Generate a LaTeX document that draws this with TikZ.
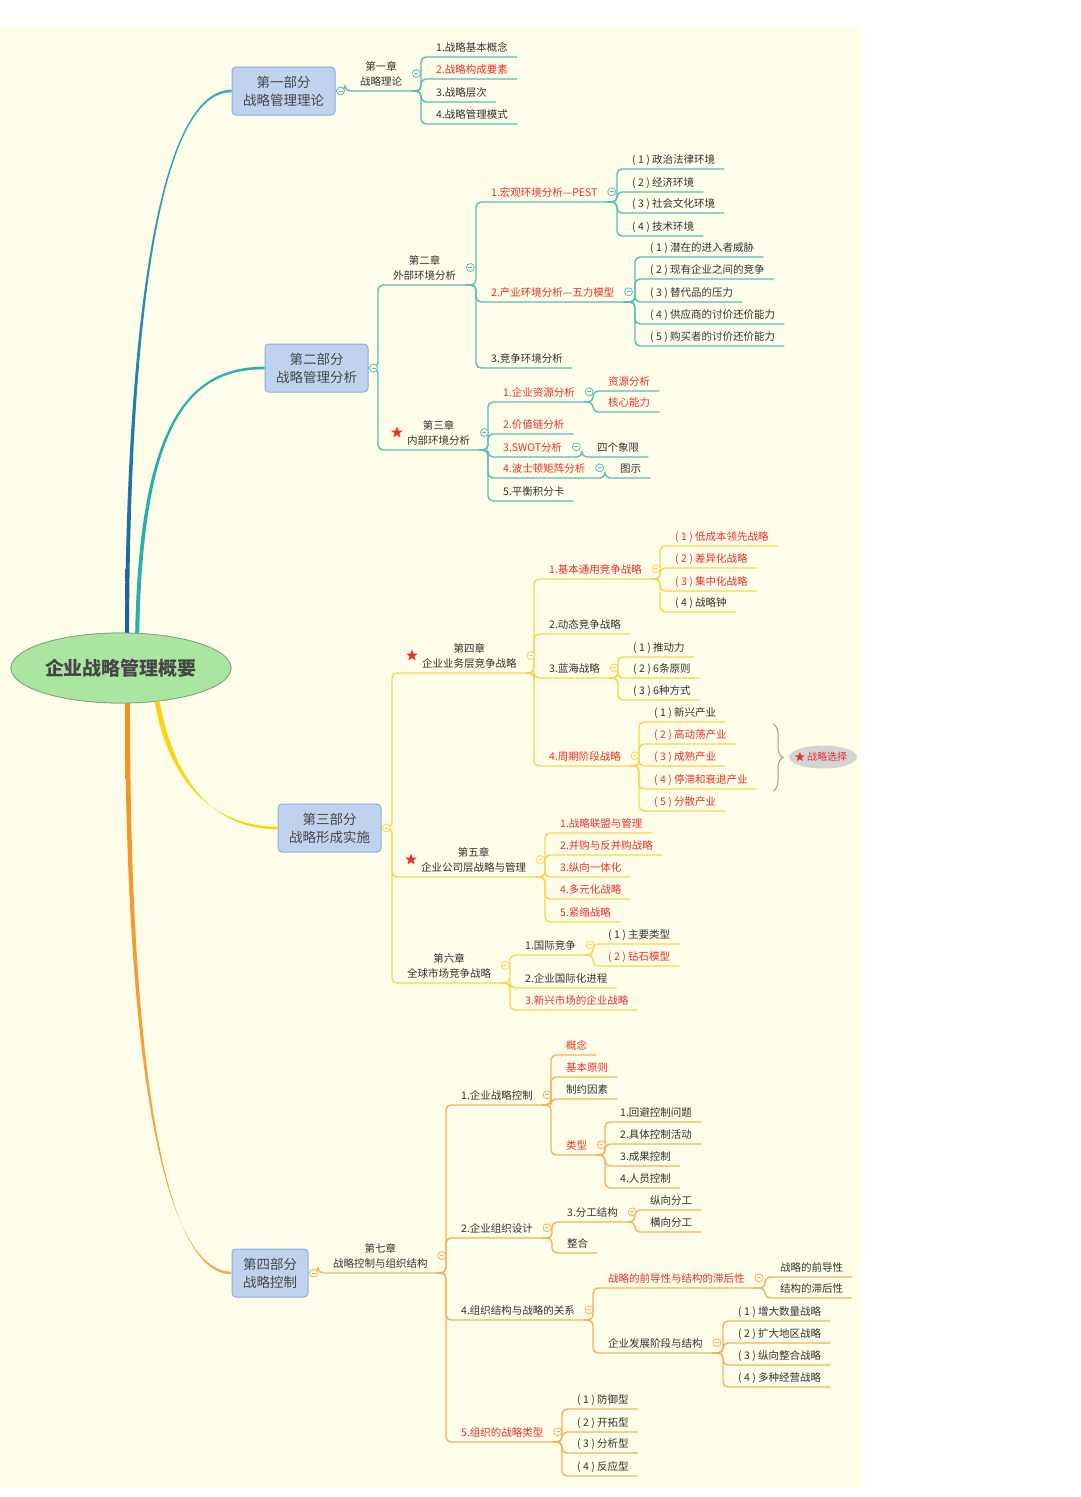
\documentclass[tikz,border=0pt]{standalone}
\usepackage{fontspec}
\setmainfont{Noto Sans CJK SC}
\usetikzlibrary{positioning}
\usetikzlibrary{calc}
\usetikzlibrary{shapes.geometric}
\usetikzlibrary{decorations.pathreplacing}
\definecolor{paper}{RGB}{254,253,233}
\definecolor{ink}{RGB}{51,51,51}
\definecolor{hotred}{RGB}{236,48,40}
\definecolor{tealline}{RGB}{88,190,184}
\definecolor{yelline}{RGB}{248,214,82}
\definecolor{orgline}{RGB}{245,176,92}
\definecolor{navy}{RGB}{26,92,156}
\definecolor{tealtop}{RGB}{60,172,186}
\definecolor{tealmid}{RGB}{42,176,168}
\definecolor{sunny}{RGB}{250,212,20}
\definecolor{orangeA}{RGB}{244,144,26}
\definecolor{orangeB}{RGB}{246,170,78}
\definecolor{partfill}{RGB}{191,211,239}
\definecolor{partline}{RGB}{140,176,220}
\definecolor{rootfill}{RGB}{170,230,162}
\definecolor{rootline}{RGB}{130,165,130}
\definecolor{sumfill}{RGB}{212,212,212}
\tikzset{leaf/.style = {anchor=south west, inner xsep=9pt, inner ysep=5.5pt,
                        text height=9pt, text depth=0pt, text=ink,
                        font=\fontsize{10.5pt}{14.5pt}\selectfont},
         hotleaf/.style = {leaf, text=hotred},
         chap/.style = {leaf, align=center, text height=23.5pt},
         partbox/.style = {rectangle, rounded corners=4pt, draw=partline, fill=partfill,
                           line width=1pt, minimum width=103pt, minimum height=48pt,
                           align=center, text=ink!90,
                           font=\fontsize{13.5pt}{18pt}\selectfont},
         rootnode/.style = {ellipse, draw=rootline, fill=rootfill, line width=0.8pt,
                            minimum width=220pt, minimum height=70pt, inner sep=0pt,
                            text=ink!90, font=\fontsize{19pt}{22pt}\selectfont\bfseries},
         foldmark/.style = {circle, draw=#1, fill=paper, line width=0.8pt,
                            minimum size=8pt, inner sep=0pt,
                            path picture={\draw[#1, line width=0.8pt]
                              ([xshift=-2pt]path picture bounding box.center) --
                              ([xshift=2pt]path picture bounding box.center);}},
         redstar/.style = {star, star points=5, star point ratio=2.4, fill=hotred,
                           inner sep=0pt, minimum size=12pt},
         sumnode/.style = {ellipse, fill=sumfill, minimum width=67pt, minimum height=23pt,
                           inner sep=0pt, text=hotred,
                           font=\fontsize{10pt}{12pt}\selectfont},
         tealedge/.style = {draw=tealline, line width=1.4pt, rounded corners=5pt},
         yeledge/.style = {draw=yelline, line width=1.4pt, rounded corners=5pt},
         orgedge/.style = {draw=orgline, line width=1.4pt, rounded corners=5pt}}

\begin{document}
\begin{tikzpicture}[x=1pt, y=-1pt]
  \useasboundingbox (0,0) rectangle (1080,1497);
  \fill[paper] (0,26) rectangle (861,1488);

  \node[partbox] (p1) at (283.5,91) {第一部分\\战略管理理论};
  \node[partbox] (p2) at (316.5,368) {第二部分\\战略管理分析};
  \node[partbox] (p3) at (329.5,828) {第三部分\\战略形成实施};
  \node[partbox, minimum width=76pt] (p4) at (270,1273) {第四部分\\战略控制};
  \node[rootnode] (root) at (121,668) {企业战略管理概要};

  \shade[top color=tealtop, bottom color=navy]
    ($(root.north)+(4,15)$) .. controls (125,380) and (150,89.7) .. ($(p1.west)+(0,-1.3)$)
    -- ($(p1.west)+(0,1.3)$) .. controls (150,92.3) and (129,380) .. ($(root.north)+(8,15)$) -- cycle;
  \fill[tealmid]
    ($(root.north)+(14,15)$) .. controls (137,420) and (190,366.7) .. ($(p2.west)+(0,-1.3)$)
    -- ($(p2.west)+(0,1.3)$) .. controls (190,369.3) and (141,420) .. ($(root.north)+(18,15)$) -- cycle;
  \fill[sunny]
    ($(root.south)+(32,-12)$) .. controls (167,790) and (220,826.7) .. ($(p3.west)+(0,-1.3)$)
    -- ($(p3.west)+(0,1.3)$) .. controls (220,829.3) and (173,790) .. ($(root.south)+(37,-12)$) -- cycle;
  \shade[top color=orangeA, bottom color=orangeB]
    ($(root.south)+(4,-12)$) .. controls (125,1100) and (170,1271.7) .. ($(p4.west)+(0,-1.3)$)
    -- ($(p4.west)+(0,1.3)$) .. controls (170,1274.3) and (129,1100) .. ($(root.south)+(9,-12)$) -- cycle;
  \node[rootnode] at (root) {企业战略管理概要};

  % part 1
  \node[chap] (c1) at (351,91) {第一章\\战略理论};
  \node[leaf] (c1a) at (427,57) {1.战略基本概念};
  \node[hotleaf] (c1b) at (427,79) {2.战略构成要素};
  \node[leaf] (c1c) at (427,102) {3.战略层次};
  \node[leaf] (c1d) at (427,124) {4.战略管理模式};

  % part 2
  \node[chap] (c2) at (384,285) {第二章\\外部环境分析};
  \node[hotleaf] (c2a) at (482,202) {1.宏观环境分析—PEST};
  \node[leaf] (c2a1) at (623,169) {( 1 ) 政治法律环境};
  \node[leaf] (c2a2) at (623,192) {( 2 ) 经济环境};
  \node[leaf] (c2a3) at (623,213) {( 3 ) 社会文化环境};
  \node[leaf] (c2a4) at (623,236) {( 4 ) 技术环境};
  \node[hotleaf] (c2b) at (482,302) {2.产业环境分析—五力模型};
  \node[leaf] (c2b1) at (641,257) {( 1 ) 潜在的进入者威胁};
  \node[leaf] (c2b2) at (641,279) {( 2 ) 现有企业之间的竞争};
  \node[leaf] (c2b3) at (641,302) {( 3 ) 替代品的压力};
  \node[leaf] (c2b4) at (641,324) {( 4 ) 供应商的讨价还价能力};
  \node[leaf] (c2b5) at (641,346) {( 5 ) 购买者的讨价还价能力};
  \node[leaf] (c2c) at (482,368) {3.竞争环境分析};
  \node[chap] (c3) at (398,450) {第三章\\内部环境分析};
  \node[hotleaf] (c3a) at (494,402) {1.企业资源分析};
  \node[hotleaf] (c3a1) at (599,391) {资源分析};
  \node[hotleaf] (c3a2) at (599,412) {核心能力};
  \node[hotleaf] (c3b) at (494,434) {2.价值链分析};
  \node[hotleaf] (c3c) at (494,457) {3.SWOT分析};
  \node[leaf] (c3c1) at (588,457) {四个象限};
  \node[hotleaf] (c3d) at (494,478) {4.波士顿矩阵分析};
  \node[leaf] (c3d1) at (611,478) {图示};
  \node[leaf] (c3e) at (494,501) {5.平衡积分卡};

  % part 3
  \node[chap] (c4) at (413,673) {第四章\\企业业务层竞争战略};
  \node[hotleaf] (c4a) at (540,579) {1.基本通用竞争战略};
  \node[hotleaf] (c4a1) at (666,546) {( 1 ) 低成本领先战略};
  \node[hotleaf] (c4a2) at (666,568) {( 2 ) 差异化战略};
  \node[hotleaf] (c4a3) at (666,591) {( 3 ) 集中化战略};
  \node[leaf] (c4a4) at (666,612) {( 4 ) 战略钟};
  \node[leaf] (c4b) at (540,634) {2.动态竞争战略};
  \node[leaf] (c4c) at (540,678) {3.蓝海战略};
  \node[leaf] (c4c1) at (624,657) {( 1 ) 推动力};
  \node[leaf] (c4c2) at (624,678) {( 2 ) 6条原则};
  \node[leaf] (c4c3) at (624,700) {( 3 ) 6种方式};
  \node[hotleaf] (c4d) at (540,766) {4.周期阶段战略};
  \node[leaf] (c4d1) at (645,722) {( 1 ) 新兴产业};
  \node[hotleaf] (c4d2) at (645,744) {( 2 ) 高动荡产业};
  \node[hotleaf] (c4d3) at (645,766) {( 3 ) 成熟产业};
  \node[hotleaf] (c4d4) at (645,789) {( 4 ) 停滞和衰退产业};
  \node[hotleaf] (c4d5) at (645,811) {( 5 ) 分散产业};
  \node[chap] (c5) at (412,877) {第五章\\企业公司层战略与管理};
  \node[hotleaf] (c5a) at (551,833) {1.战略联盟与管理};
  \node[hotleaf] (c5b) at (551,855) {2.并购与反并购战略};
  \node[hotleaf] (c5c) at (551,877) {3.纵向一体化};
  \node[hotleaf] (c5d) at (551,899) {4.多元化战略};
  \node[hotleaf] (c5e) at (551,922) {5.紧缩战略};
  \node[chap] (c6) at (398,983) {第六章\\全球市场竞争战略};
  \node[leaf] (c6a) at (516,955) {1.国际竞争};
  \node[leaf] (c6a1) at (599,944) {( 1 ) 主要类型};
  \node[hotleaf] (c6a2) at (599,966) {( 2 ) 钻石模型};
  \node[leaf] (c6b) at (516,988) {2.企业国际化进程};
  \node[hotleaf] (c6c) at (516,1010) {3.新兴市场的企业战略};

  % part 4
  \node[chap] (c7) at (324,1273) {第七章\\战略控制与组织结构};
  \node[leaf] (c7a) at (452,1105) {1.企业战略控制};
  \node[hotleaf] (c7a1) at (557,1055) {概念};
  \node[hotleaf] (c7a2) at (557,1077) {基本原则};
  \node[leaf] (c7a3) at (557,1099) {制约因素};
  \node[hotleaf] (c7a4) at (557,1155) {类型};
  \node[leaf] (t1) at (611,1122) {1.回避控制问题};
  \node[leaf] (t2) at (611,1144) {2.具体控制活动};
  \node[leaf] (t3) at (611,1166) {3.成果控制};
  \node[leaf] (t4) at (611,1188) {4.人员控制};
  \node[leaf] (c7b) at (452,1238) {2.企业组织设计};
  \node[leaf] (c7b1) at (558,1222) {3.分工结构};
  \node[leaf] (c7b2) at (558,1253) {整合};
  \node[leaf] (w1) at (641,1210) {纵向分工};
  \node[leaf] (w2) at (641,1232) {横向分工};
  \node[leaf] (c7c) at (452,1320) {4.组织结构与战略的关系};
  \node[hotleaf] (c7c1) at (599,1288) {战略的前导性与结构的滞后性};
  \node[leaf] (c7c2) at (599,1353) {企业发展阶段与结构};
  \node[leaf] (g1) at (771,1277) {战略的前导性};
  \node[leaf] (g2) at (771,1298) {结构的滞后性};
  \node[leaf] (s1) at (729,1321) {( 1 ) 增大数量战略};
  \node[leaf] (s2) at (729,1343) {( 2 ) 扩大地区战略};
  \node[leaf] (s3) at (729,1365) {( 3 ) 纵向整合战略};
  \node[leaf] (s4) at (729,1387) {( 4 ) 多种经营战略};
  \node[hotleaf] (c7d) at (452,1442) {5.组织的战略类型};
  \node[leaf] (k1) at (568,1409) {( 1 ) 防御型};
  \node[leaf] (k2) at (568,1432) {( 2 ) 开拓型};
  \node[leaf] (k3) at (568,1453) {( 3 ) 分析型};
  \node[leaf] (k4) at (568,1476) {( 4 ) 反应型};

  % branches
  \draw[tealedge] (p1.east) -| ([xshift=-6pt]c1.south west) -- (c1.south east);
  \draw[tealedge] (p2.east) -| ([xshift=-6pt]c2.south west) -- (c2.south east);
  \draw[tealedge] (p2.east) -| ([xshift=-20pt]c3.south west) -- (c3.south east);
  \draw[yeledge] (p3.east) -| ([xshift=-21pt]c4.south west) -- (c4.south east);
  \draw[yeledge] (p3.east) -| ([xshift=-20pt]c5.south west) -- (c5.south east);
  \draw[yeledge] (p3.east) -| ([xshift=-6pt]c6.south west) -- (c6.south east);
  \draw[orgedge] (p4.east) -| ([xshift=-6pt]c7.south west) -- (c7.south east);

  \foreach \from/\kids in {c1/{c1a,c1b,c1c,c1d}, c2/{c2a,c2b,c2c},
      c2a/{c2a1,c2a2,c2a3,c2a4}, c2b/{c2b1,c2b2,c2b3,c2b4,c2b5},
      c3/{c3a,c3b,c3c,c3d,c3e}, c3a/{c3a1,c3a2}, c3c/{c3c1}, c3d/{c3d1}}
    \foreach \k in \kids
      \draw[tealedge] (\from.south east) -| ([xshift=-6pt]\k.south west) -- (\k.south east);
  \foreach \from/\kids in {c4/{c4a,c4b,c4c,c4d}, c4a/{c4a1,c4a2,c4a3,c4a4},
      c4c/{c4c1,c4c2,c4c3}, c4d/{c4d1,c4d2,c4d3,c4d4,c4d5},
      c5/{c5a,c5b,c5c,c5d,c5e}, c6/{c6a,c6b,c6c}, c6a/{c6a1,c6a2}}
    \foreach \k in \kids
      \draw[yeledge] (\from.south east) -| ([xshift=-6pt]\k.south west) -- (\k.south east);
  \foreach \from/\kids in {c7/{c7a,c7b,c7c,c7d}, c7a/{c7a1,c7a2,c7a3,c7a4},
      c7a4/{t1,t2,t3,t4}, c7b/{c7b1,c7b2}, c7b1/{w1,w2}, c7c/{c7c1,c7c2},
      c7c1/{g1,g2}, c7c2/{s1,s2,s3,s4}, c7d/{k1,k2,k3,k4}}
    \foreach \k in \kids
      \draw[orgedge] (\from.south east) -| ([xshift=-6pt]\k.south west) -- (\k.south east);

  % fold marks and stars
  \foreach \k in {p1,p2}
    \node[foldmark=tealline] at ([xshift=5pt]\k.east) {};
  \node[foldmark=yelline] at ([xshift=5pt]p3.east) {};
  \node[foldmark=orgline] at ([xshift=5pt]p4.east) {};
  \foreach \k in {c1,c2,c2a,c2b,c3,c3a,c3c,c3d}
    \node[foldmark=tealline] at ([xshift=5pt]\k.east) {};
  \foreach \k in {c4,c4a,c4c,c4d,c5,c6,c6a}
    \node[foldmark=yelline] at ([xshift=5pt]\k.east) {};
  \foreach \k in {c7,c7a,c7a4,c7b,c7b1,c7c,c7c1,c7c2,c7d}
    \node[foldmark=orgline] at ([xshift=5pt]\k.east) {};
  \foreach \k in {c3,c4,c5}
    \node[redstar] at ([xshift=-1pt]\k.west) {};

  % summary
  \draw[draw=gray!75, line width=1pt, decorate, decoration={brace, amplitude=10pt}]
    (773,724) -- (773,791);
  \node[sumnode] (sum) at (823,757) {\hspace*{8pt}战略选择};
  \node[redstar, minimum size=10pt] at ([xshift=11pt]sum.west) {};
\end{tikzpicture}
\end{document}
